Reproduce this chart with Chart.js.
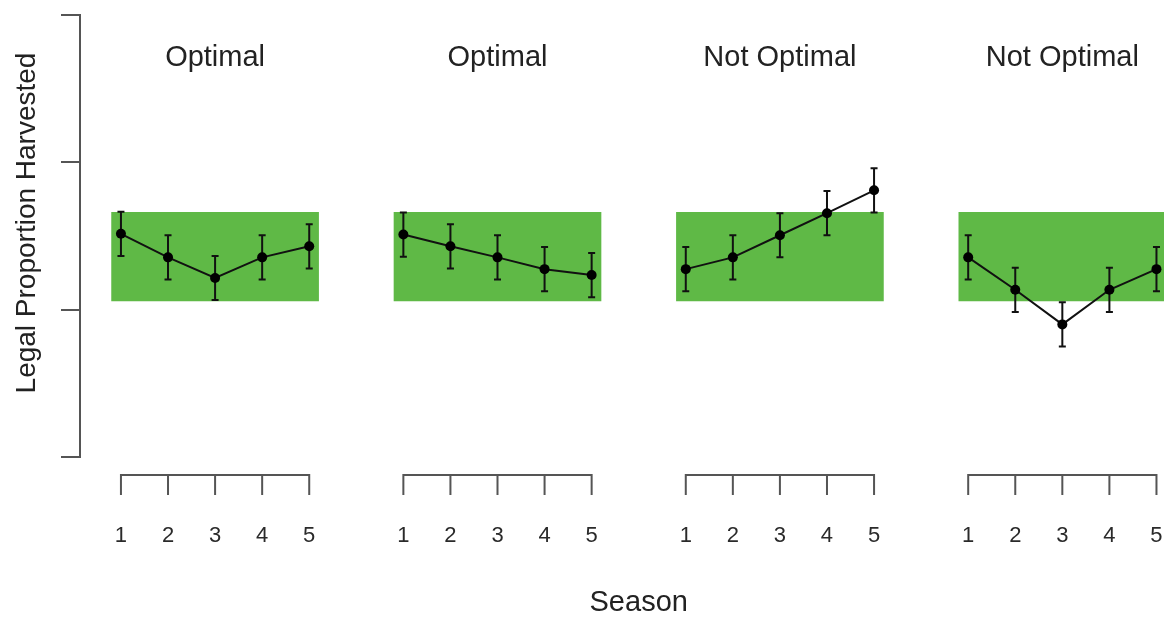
<!DOCTYPE html>
<html>
<head>
<meta charset="utf-8">
<script src="https://cdn.jsdelivr.net/npm/chart.js@4.4.1/dist/chart.umd.min.js"></script>
<style>
  html, body { margin: 0; padding: 0; background: #fff; }
  #wrap { width: 1164px; height: 619px; }
</style>
</head>
<body>
<div id="wrap"><canvas id="harvestChart" width="1164" height="619"></canvas></div>
<script>
// Data
const seasons = [1, 2, 3, 4, 5];
const panelTitles = ['Optimal', 'Optimal', 'Not Optimal', 'Not Optimal'];
const panel1Means = [0.303, 0.271, 0.243, 0.271, 0.286];
const panel2Means = [0.302, 0.286, 0.271, 0.255, 0.247];
const panel3Means = [0.255, 0.271, 0.301, 0.331, 0.362];
const panel4Means = [0.271, 0.227, 0.180, 0.227, 0.255];
const panel1Errors = [0.03, 0.03, 0.03, 0.03, 0.03];
const panel2Errors = [0.03, 0.03, 0.03, 0.03, 0.03];
const panel3Errors = [0.03, 0.03, 0.03, 0.03, 0.03];
const panel4Errors = [0.03, 0.03, 0.03, 0.03, 0.03];
const targetRange = [0.212, 0.332]; // green band
const yTicks = [0, 0.2, 0.4, 0.6];
const panelGap = 6; // seasons are laid side by side, 6 units apart

const allMeans = [panel1Means, panel2Means, panel3Means, panel4Means];
const allErrors = [panel1Errors, panel2Errors, panel3Errors, panel4Errors];
const xPositions = [];
panelTitles.forEach((t, k) => seasons.forEach(s => xPositions.push(s + panelGap * k)));

const FONT = "'Liberation Sans', Arial, sans-serif";
const AXIS_COLOR = '#555';

const bandDataset = {
    type: 'bar',
    data: panelTitles.map((t, k) => ({ x: 3 + panelGap * k, y: targetRange })),
    backgroundColor: '#5fb946',
    borderWidth: 0,
    barThickness: 207,
    order: 10
};

const lineDatasets = allMeans.map((means, k) => ({
    type: 'line',
    data: means.map((m, i) => ({ x: seasons[i] + panelGap * k, y: m })),
    borderColor: '#111',
    borderWidth: 2,
    pointRadius: 5,
    pointBackgroundColor: '#000',
    pointBorderWidth: 0,
    tension: 0,
    order: 1
}));

const decorations = {
    id: 'decorations',
    afterDatasetDraw(chart, args) {
        if (args.index !== 0) return; // error bars right after the green band
        const { ctx, scales: { x, y } } = chart;
        ctx.save();
        ctx.strokeStyle = '#111';
        ctx.lineWidth = 2;
        allMeans.forEach((means, k) => {
            means.forEach((m, i) => {
                const px = x.getPixelForValue(seasons[i] + panelGap * k);
                const top = y.getPixelForValue(m + allErrors[k][i]);
                const bot = y.getPixelForValue(m - allErrors[k][i]);
                ctx.beginPath();
                ctx.moveTo(px, top); ctx.lineTo(px, bot);
                ctx.moveTo(px - 3.5, top); ctx.lineTo(px + 3.5, top);
                ctx.moveTo(px - 3.5, bot); ctx.lineTo(px + 3.5, bot);
                ctx.stroke();
            });
        });
        ctx.restore();
    },
    afterDraw(chart) {
        const { ctx, chartArea, scales: { x } } = chart;
        ctx.save();
        // bracket axis under each panel
        const axisY = chartArea.bottom + 18;
        ctx.strokeStyle = AXIS_COLOR;
        ctx.lineWidth = 2;
        panelTitles.forEach((t, k) => {
            const x0 = x.getPixelForValue(seasons[0] + panelGap * k);
            const x1 = x.getPixelForValue(seasons[seasons.length - 1] + panelGap * k);
            ctx.beginPath();
            ctx.moveTo(x0, axisY); ctx.lineTo(x1, axisY);
            seasons.forEach(s => {
                const px = x.getPixelForValue(s + panelGap * k);
                ctx.moveTo(px, axisY - 1); ctx.lineTo(px, axisY + 20);
            });
            ctx.stroke();
        });
        // panel titles
        ctx.fillStyle = '#222';
        ctx.font = '29px ' + FONT;
        ctx.textAlign = 'center';
        ctx.textBaseline = 'middle';
        panelTitles.forEach((t, k) => {
            ctx.fillText(t, x.getPixelForValue(3 + panelGap * k), 58);
        });
        // axis titles
        ctx.fillText('Season', x.getPixelForValue(12), 603);
        ctx.translate(27, 223);
        ctx.rotate(-Math.PI / 2);
        ctx.font = '28px ' + FONT;
        ctx.fillText('Legal Proportion Harvested', 0, 0);
        ctx.restore();
    }
};

new Chart(document.getElementById('harvestChart').getContext('2d'), {
    type: 'line',
    data: { datasets: [bandDataset, ...lineDatasets] },
    plugins: [decorations],
    options: {
        responsive: false,
        animation: false,
        layout: { autoPadding: false, padding: { top: 15, left: 0, right: 0, bottom: 0 } },
        plugins: { legend: { display: false }, tooltip: { enabled: false } },
        scales: {
            x: {
                type: 'linear',
                min: 0.13,
                max: 23.16,
                offset: false,
                grid: { display: false },
                border: { display: false },
                afterBuildTicks: s => { s.ticks = xPositions.map(v => ({ value: v })); },
                afterFit: s => { s.height = 162; s.paddingLeft = 0; s.paddingRight = 0; },
                ticks: {
                    autoSkip: false,
                    maxRotation: 0,
                    padding: 58,
                    color: '#2a2a2a',
                    font: { family: FONT, size: 22 },
                    callback: v => ((v - 1) % panelGap) + 1
                }
            },
            y: {
                min: 0,
                max: 0.6,
                afterBuildTicks: s => { s.ticks = yTicks.map(v => ({ value: v })); },
                afterFit: s => { s.width = 80; },
                ticks: { display: false },
                grid: { drawOnChartArea: false, tickLength: 19, color: AXIS_COLOR, lineWidth: 2 },
                border: { color: AXIS_COLOR, width: 2 }
            }
        }
    }
});
</script>
</body>
</html>
